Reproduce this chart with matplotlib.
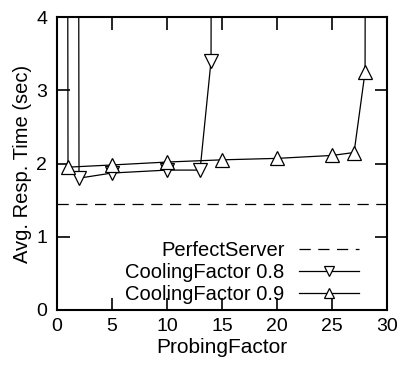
import matplotlib
matplotlib.use("Agg")
import matplotlib.pyplot as plt

plt.rcParams['font.family'] = ['Liberation Sans', 'DejaVu Sans']

# data; 100 stands for off-scale (saturated) response times
perfect_y = 1.45
x_08 = [1, 2, 5, 10, 13, 14, 15]
y_08 = [100, 1.80, 1.87, 1.91, 1.91, 3.40, 100]
x_09 = [0, 1, 5, 10, 15, 20, 25, 27, 28, 29]
y_09 = [100, 1.95, 1.98, 2.02, 2.05, 2.07, 2.11, 2.15, 3.25, 100]

fig = plt.figure(figsize=(3.97, 3.65), dpi=100)
ax = fig.add_axes([0.1436, 0.1507, 0.8314, 0.8027])

ax.axhline(perfect_y, color='black', lw=0.9, dashes=(9, 6), label='PerfectServer')
ax.plot(x_08, y_08, color='black', lw=0.9, marker='v', markersize=9.5,
        markerfacecolor='white', markeredgewidth=0.9, label='CoolingFactor 0.8')
ax.plot(x_09, y_09, color='black', lw=0.9, marker='^', markersize=9.5,
        markerfacecolor='white', markeredgewidth=0.9, label='CoolingFactor 0.9')

ax.set_xlim(0, 30)
ax.set_ylim(0, 4)
ax.set_xticks([0, 5, 10, 15, 20, 25, 30])
ax.set_yticks([0, 1, 2, 3, 4])
ax.tick_params(direction='in', length=9, width=1.2, top=True, right=True,
               labelsize=14, pad=7)
ax.tick_params(axis='x', pad=6)
for s in ax.spines.values():
    s.set_linewidth(1.5)

ax.set_xlabel('ProbingFactor', fontsize=15, labelpad=2)
ax.set_ylabel('Avg. Resp. Time (sec)', fontsize=14.5, labelpad=3)

ax.legend(loc='lower right', frameon=False, markerfirst=False, fontsize=14.5,
          handlelength=3.0, handletextpad=0.7, labelspacing=0.15,
          borderpad=0, borderaxespad=0, markerscale=0.8,
          bbox_to_anchor=(0.915, 0.02))

fig.savefig('out.png', dpi=100)
